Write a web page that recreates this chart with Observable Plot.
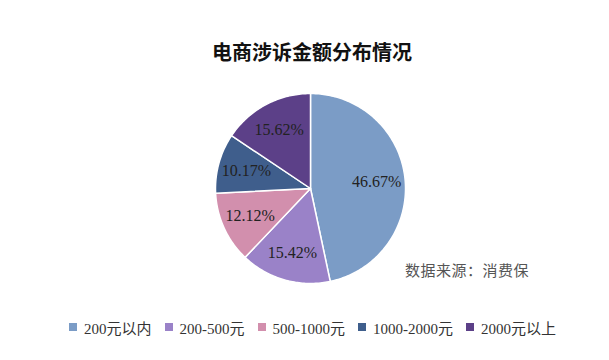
<!DOCTYPE html>
<html>
<head>
<meta charset="utf-8">
<script src="https://cdn.jsdelivr.net/npm/d3@7"></script>
<script src="https://cdn.jsdelivr.net/npm/@observablehq/plot@0.6"></script>
<style>
  html, body { margin: 0; padding: 0; background: #fff; }
  #wrap { position: relative; width: 609px; height: 360px; overflow: hidden; }
  #title { position: absolute; left: 0; top: 38px; width: 624px; text-align: center;
           font-family: "Noto Sans CJK SC", sans-serif; font-weight: bold; font-size: 20px;
           color: #111; line-height: 28px; }
  #chart { position: absolute; left: 0; top: 75px; }
  #source { position: absolute; left: 405px; top: 259px; font-family: "Noto Sans CJK SC", sans-serif;
            font-size: 15px; color: #555; line-height: 22px; letter-spacing: 0.5px; }
  #legend { position: absolute; left: 69px; top: 316px; }
  #legend .lg-swatches { margin: 0; min-height: 22px; }
  #legend .lg-swatch { margin-right: 13px; }
  #legend .lg-swatch > svg { margin-right: 7px; }
</style>
</head>
<body>
<div id="wrap">
  <div id="title">电商涉诉金额分布情况</div>
  <div id="chart"></div>
  <div id="source">数据来源：消费保</div>
  <div id="legend"></div>
</div>
<script>
const categories = ["200元以内", "200-500元", "500-1000元", "1000-2000元", "2000元以上"];
const shares = [46.67, 15.42, 12.12, 10.17, 15.62];
const colors = ["#7b9cc6", "#9a82c8", "#d28fad", "#3f5e8c", "#5c4088"];

const arcs = d3.pie().sort(null).value(d => d)(shares);
const slices = arcs.map((a, i) => {
  const pts = [[0, 0]];
  const n = Math.max(2, Math.ceil((a.endAngle - a.startAngle) / (Math.PI / 180)));
  for (let k = 0; k <= n; k++) {
    const t = a.startAngle + (a.endAngle - a.startAngle) * k / n;
    pts.push([Math.sin(t), -Math.cos(t)]);
  }
  pts.push([0, 0]);
  const mid = (a.startAngle + a.endAngle) / 2;
  return {
    type: "Feature",
    properties: {name: categories[i], value: shares[i], lx: 0.7 * Math.sin(mid), ly: -0.7 * Math.cos(mid)},
    geometry: {type: "Polygon", coordinates: [pts]}
  };
});

const plot = Plot.plot({
  width: 609,
  height: 230,
  marginLeft: 215,
  marginRight: 204,
  marginTop: 18,
  marginBottom: 22,
  projection: {type: "identity", domain: {type: "MultiPoint", coordinates: [[-1, -1], [1, 1]]}},
  color: {domain: categories, range: colors},
  style: {background: "transparent"},
  marks: [
    Plot.geo(slices, {fill: d => d.properties.name, stroke: "#fff", strokeWidth: 1.5}),
    Plot.text(slices, {
      x: d => d.properties.lx,
      y: d => d.properties.ly,
      text: d => d3.format(".2f")(d.properties.value) + "%",
      fontFamily: "Liberation Serif, serif",
      fontSize: 16,
      fill: "#222"
    })
  ]
});
document.getElementById("chart").appendChild(plot);

const legend = plot.legend("color", {
  swatchSize: 8,
  className: "lg",
  style: {fontFamily: "'Liberation Serif', 'Noto Sans CJK SC', serif", fontSize: "15px", color: "#333"}
});
document.getElementById("legend").appendChild(legend);
</script>
</body>
</html>
